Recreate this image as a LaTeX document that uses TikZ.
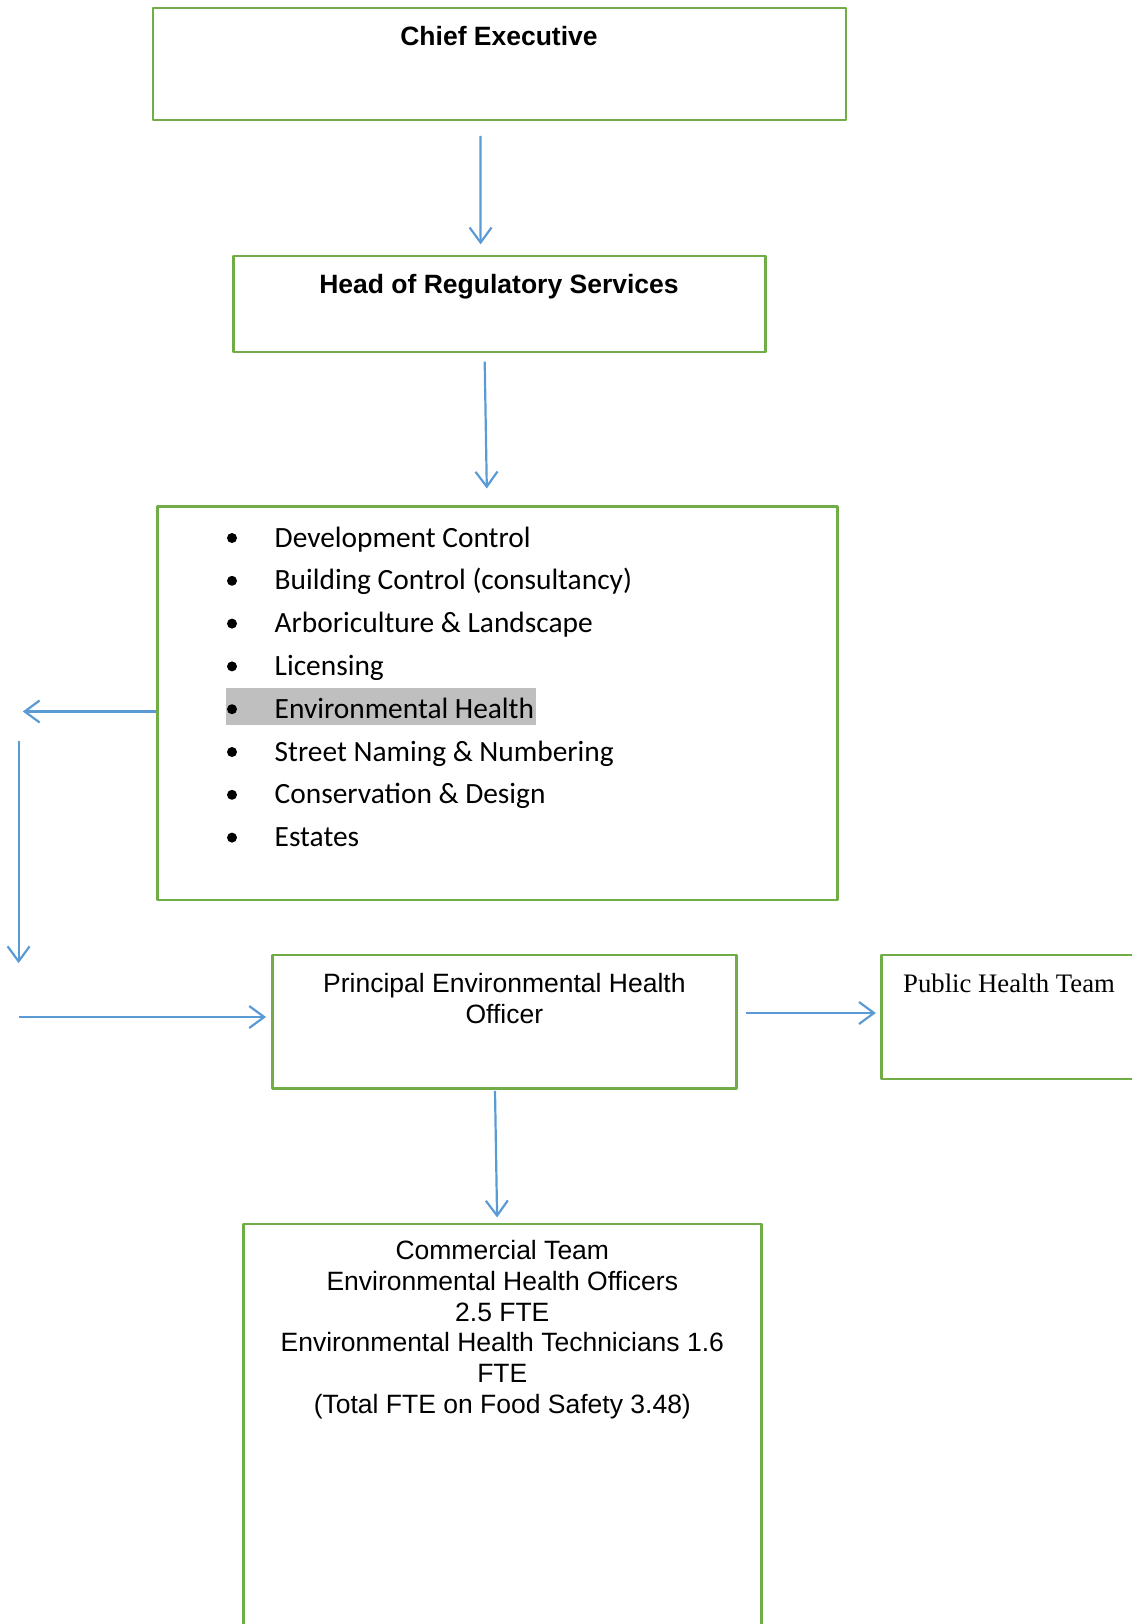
\documentclass[tikz,border=0pt]{standalone}
\usepackage{fontspec}
\setmainfont{Liberation Sans}
\newfontfamily\listfont{Carlito}
\newfontfamily\serifpht{Liberation Serif}
\usetikzlibrary{arrows.meta}
\definecolor{boxgreen}{HTML}{70AD47}
\definecolor{arrowblue}{HTML}{5B9BD5}
\definecolor{hilite}{HTML}{BFBFBF}

\begin{document}
\begin{tikzpicture}[x=1pt,y=-1pt,line join=round,
    >={Straight Barb[length=15pt,width=22pt,line width=2.2pt]},
    font=\fontsize{26.5}{30.5}\selectfont,
    box/.style={draw=boxgreen,line width=2.7pt,inner sep=0pt},
    arr/.style={->,draw=arrowblue,line width=2.2pt},
    item/.style={anchor=base west,inner sep=0pt,
      font=\listfont\fontsize{29.4}{33}\selectfont}]
  \useasboundingbox (0,0) rectangle (1132,1624);
  \clip (0,0) rectangle (1132,1624);
  % boxes
  \node[box,minimum width=693pt,minimum height=112pt] (chief) at (499.5,64) {};
  \node[font=\fontsize{26.5}{30.5}\selectfont\bfseries] (chieft) at (499,36.5) {Chief Executive};
  \node[box,minimum width=532pt,minimum height=96pt] (head) at (499.2,304) {};
  \node[font=\fontsize{26.5}{30.5}\selectfont\bfseries] (headt) at (499,287) {Head of Regulatory Services};
  \node[box,minimum width=680pt,minimum height=393.5pt] (serv) at (497.2,703.2) {};
  \node[box,minimum width=464pt,minimum height=133.5pt] (peho) at (504.4,1021.7) {};
  \node[align=center,inner sep=0pt] (pehot) at (504.4,998.5) {Principal Environmental Health\\Officer};
  \node[box,minimum width=300pt,minimum height=124pt] (pht) at (1031.4,1017) {};
  \node[anchor=west,inner sep=0pt,font=\serifpht\fontsize{26.7}{30}\selectfont] (phtt) at (903,983) {Public Health Team};
  \node[box,minimum width=518pt,minimum height=480pt] (comm) at (502.3,1464) {};
  \node[align=center,inner sep=0pt,font=\fontsize{26.5}{30.7}\selectfont] (commt) at (502.3,1329.5)
    {Commercial Team\\Environmental Health Officers\\2.5 FTE\\Environmental Health Technicians 1.6\\FTE\\(Total FTE on Food Safety 3.48)};
  % service list
  \fill[hilite] (225.8,687.7) rectangle (535.5,725);
  \foreach \t [count=\i] in {Development Control,Building Control (consultancy),
      Arboriculture \& Landscape,Licensing,Environmental Health,
      Street Naming \& Numbering,Conservation \& Design,Estates}{
    \fill (232,{538+(\i-1)*42.8}) circle (5pt);
    \node[item] (s\i) at (274.5,{547+(\i-1)*42.8}) {\t};
  }
  % connectors
  \coordinate (lt) at (22.8,711.5);
  \coordinate (dtop) at (18.6,740.5);
  \coordinate (dbot) at (18.6,963.2);
  \coordinate (rin) at (18.6,1017);
  \draw[arr] ([xshift=-19pt,yshift=-14.6pt]chief.south) -- ([xshift=-18.6pt,yshift=10.3pt]head.north);
  \draw[arr] ([xshift=-14.5pt,yshift=-8.3pt]head.south) -- ([xshift=-10.4pt,yshift=16.6pt]serv.north);
  \draw[arr] ([yshift=-8.3pt]serv.west) -- (lt);
  \draw[arr] (dtop) -- (dbot);
  \draw[arr] (rin) -- ([xshift=-5pt,yshift=4.7pt]peho.west);
  \draw[arr] ([xshift=8.3pt,yshift=8.7pt]peho.east) -- ([xshift=-4.2pt,yshift=4pt]pht.west);
  \draw[arr] ([xshift=-9.4pt,yshift=-1pt]peho.south) -- ([xshift=-5.2pt,yshift=5.2pt]comm.north);
\end{tikzpicture}
\end{document}
